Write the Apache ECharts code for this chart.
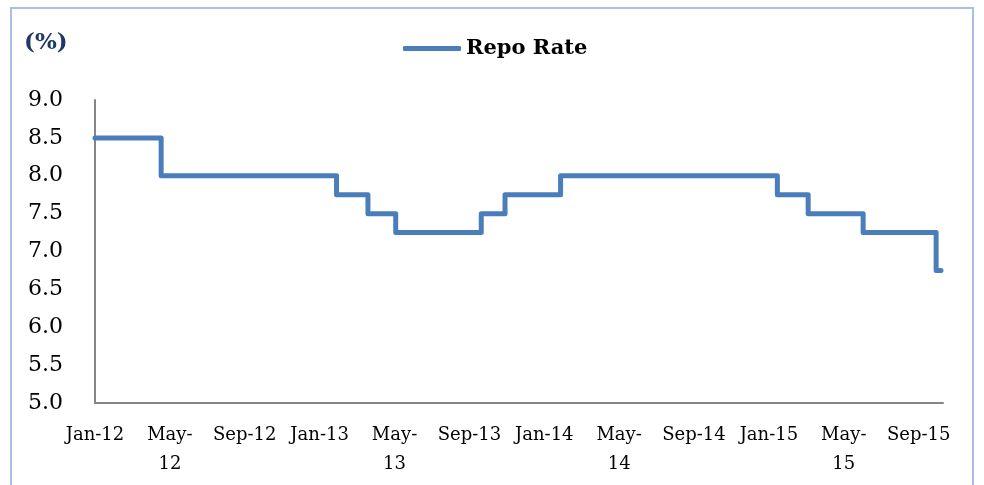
<!DOCTYPE html>
<html>
<head>
<meta charset="utf-8">
<script src="https://cdn.jsdelivr.net/npm/echarts@6/dist/echarts.min.js"></script>
<style>
  html, body { margin: 0; padding: 0; background: #fff; }
  #chart { width: 984px; height: 485px; }
</style>
</head>
<body>
<div id="chart"></div>
<script>
// policy rate changes (date of change, new repo rate %)
var changeDates = ['2012-01-01', '2012-04-17', '2013-01-29', '2013-03-19', '2013-05-03',
                   '2013-09-20', '2013-10-29', '2014-01-28', '2015-01-15', '2015-03-04',
                   '2015-06-02', '2015-09-29', '2015-10-07'];
var repoRates = [8.5, 8.0, 7.75, 7.5, 7.25, 7.5, 7.75, 8.0, 7.75, 7.5, 7.25, 6.75, 6.75];

// one label every 4 months from Jan-12
var xTickLabels = ['Jan-12', 'May-\n12', 'Sep-12', 'Jan-13', 'May-\n13', 'Sep-13',
                   'Jan-14', 'May-\n14', 'Sep-14', 'Jan-15', 'May-\n15', 'Sep-15'];
var yMin = 5.0, yMax = 9.0, yStep = 0.5;

var FONT = 'DejaVu Serif';

// months elapsed since Jan 2012
function monthIndex(s) {
    var p = s.split('-');
    var y = +p[0], m = +p[1], d = +p[2];
    var dim = new Date(y, m, 0).getDate();
    return (y - 2012) * 12 + (m - 1) + (d - 1) / dim;
}

var seriesData = [];
for (var i = 0; i < changeDates.length; i++) {
    seriesData.push([monthIndex(changeDates[i]), repoRates[i]]);
}

var myChart = echarts.init(document.getElementById('chart'));
var option = {
    backgroundColor: '#fff',
    animation: false,
    graphic: [{
        type: 'rect',
        shape: { x: 11, y: 8, width: 962, height: 500 },
        style: { fill: 'none', stroke: '#a9bfe3', lineWidth: 2 },
        silent: true
    }],
    title: {
        text: '(%)',
        left: 19,
        top: 27,
        textStyle: { fontFamily: FONT, fontSize: 23, fontWeight: 'bold', color: '#1f3864' }
    },
    legend: {
        data: ['Repo Rate'],
        left: 398,
        top: 33,
        icon: 'roundRect',
        itemWidth: 58,
        itemHeight: 5,
        itemGap: 3,
        textStyle: { fontFamily: FONT, fontSize: 21, fontWeight: 'bold', color: '#000' }
    },
    grid: { left: 95, right: 41, top: 100, bottom: 82, containLabel: false },
    xAxis: {
        type: 'value',
        min: 0,
        max: 45.3,
        interval: 4,
        axisLine: { show: true, lineStyle: { color: '#868686', width: 2 } },
        axisTick: { show: false },
        splitLine: { show: false },
        axisLabel: {
            showMaxLabel: false,
            margin: 18,
            fontFamily: FONT,
            fontSize: 18,
            lineHeight: 29,
            color: '#000',
            formatter: function (v) {
                var k = Math.round(v / 4);
                return (Math.abs(v - k * 4) < 1e-6 && xTickLabels[k]) ? xTickLabels[k] : '';
            }
        }
    },
    yAxis: {
        type: 'value',
        min: yMin,
        max: yMax,
        interval: yStep,
        axisLine: { show: true, lineStyle: { color: '#868686', width: 2 } },
        axisTick: { show: false },
        splitLine: { show: false },
        axisLabel: {
            margin: 32,
            fontFamily: FONT,
            fontSize: 22,
            color: '#000',
            formatter: function (v) { return v.toFixed(1); }
        }
    },
    series: [{
        name: 'Repo Rate',
        type: 'line',
        step: 'end',
        symbol: 'none',
        data: seriesData,
        itemStyle: { color: '#4a7ebb' },
        lineStyle: { color: '#4a7ebb', width: 5, cap: 'round', join: 'round' }
    }]
};
myChart.setOption(option);
</script>
</body>
</html>
